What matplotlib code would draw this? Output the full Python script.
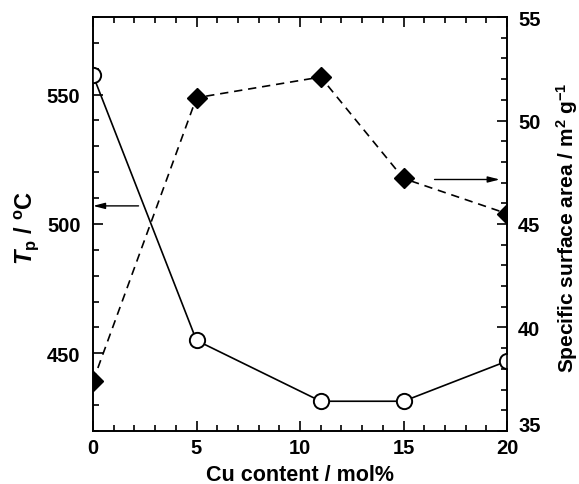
import matplotlib.pyplot as plt
from matplotlib.ticker import MultipleLocator
from matplotlib.transforms import ScaledTranslation

cu = [0, 5, 11, 15, 20]
tp = [557.5, 455, 431.5, 431.5, 447]
ssa = [37.4, 51.1, 52.1, 47.2, 45.5]

plt.rcParams['font.family'] = ['Liberation Sans', 'DejaVu Sans']
plt.rcParams['font.weight'] = 'bold'
plt.rcParams['mathtext.fontset'] = 'custom'
plt.rcParams['mathtext.rm'] = 'Liberation Sans:bold'
plt.rcParams['mathtext.it'] = 'Liberation Sans:bold:italic'

fig = plt.figure(figsize=(5.79, 4.85), dpi=100)
ax = fig.add_axes([93 / 579, 1 - 432 / 485, 414 / 579, 414 / 485])
ax2 = ax.twinx()

ax.plot(cu, tp, 'k-', lw=1.2, marker='o', ms=11, mfc='white', mec='black', mew=1.4, zorder=3)
ax2.plot(cu, ssa, 'k--', lw=1.2, marker='D', ms=10, mfc='black', mec='black', dashes=(5, 3.5))

ax.set_xlim(0, 20)
ax.set_ylim(420, 580)
ax2.set_ylim(35, 55)
ax.xaxis.set_major_locator(MultipleLocator(5))
ax.xaxis.set_minor_locator(MultipleLocator(1))
ax.yaxis.set_major_locator(MultipleLocator(50))
ax.yaxis.set_minor_locator(MultipleLocator(10))
ax2.yaxis.set_major_locator(MultipleLocator(5))
ax2.yaxis.set_minor_locator(MultipleLocator(1))

ax.tick_params(which='both', direction='in', top=True, labelsize=14.5, width=1.2)
ax.tick_params(which='major', length=7)
ax.tick_params(which='minor', length=4)
ax.tick_params(axis='y', pad=9)
ax.tick_params(axis='x', pad=5)
ax2.tick_params(which='both', direction='in', labelsize=14.5, width=1.2, pad=8)
ax2.tick_params(which='major', length=7)
ax2.tick_params(which='minor', length=4)
for a in (ax, ax2):
    for s in a.spines.values():
        s.set_linewidth(1.2)

ax.set_xlabel('Cu content / mol%', fontsize=15.5, fontweight='bold', va='center')
ax.set_ylabel('$T_\\mathrm{p}$ / $^\\mathrm{o}$C', fontsize=17, fontweight='bold', va='center')
ax2.set_ylabel('Specific surface area / m$^\\mathrm{2}$ g$^\\mathrm{-1}$', fontsize=15, fontweight='bold', va='center')
ax.xaxis.set_label_coords(0.5, -0.106)
ax.yaxis.set_label_coords(-0.159, 0.493)
ax2.yaxis.set_label_coords(1.145, 0.494)

arrow = dict(arrowstyle='-|>,head_length=0.7,head_width=0.18', color='black', lw=1.0, shrinkA=0, shrinkB=0)
ax.annotate('', xy=(0, 507), xytext=(2.2, 507), arrowprops=arrow)
ax2.annotate('', xy=(19.65, 47.15), xytext=(16.5, 47.15), arrowprops=arrow)

# the reference lifts the bottom right label a little
fig.canvas.draw()
for t in ax2.yaxis.get_major_ticks():
    if t.label2.get_text() == '35':
        t.label2.set_transform(t.label2.get_transform() + ScaledTranslation(0, 7 / 100, fig.dpi_scale_trans))

fig.savefig('out.png', dpi=100)
